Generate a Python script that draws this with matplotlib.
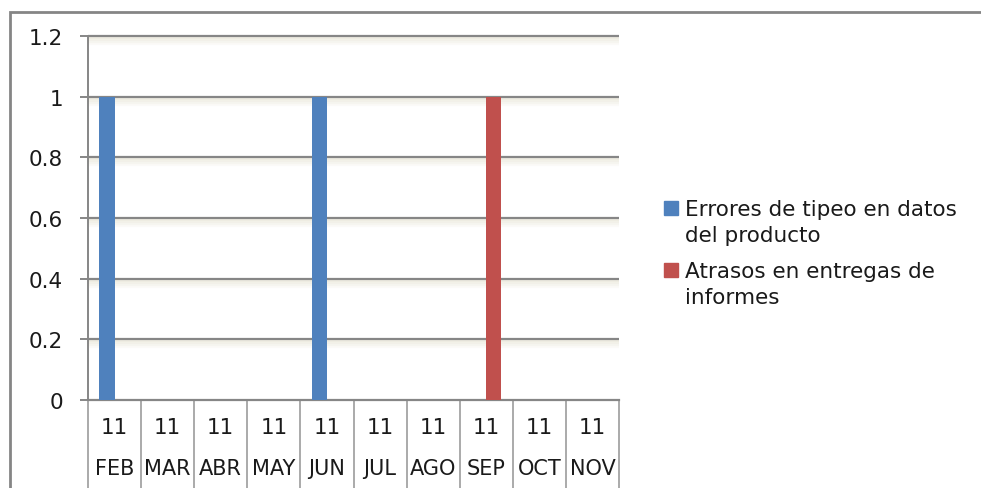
import matplotlib
matplotlib.use('Agg')
import matplotlib.pyplot as plt
from matplotlib.patches import Rectangle
from matplotlib.transforms import ScaledTranslation
import numpy as np

plt.rcParams['font.family'] = ['DejaVu Sans']

months = ["FEB", "MAR", "ABR", "MAY", "JUN", "JUL", "AGO", "SEP", "OCT", "NOV"]
years = ["11"] * 10
errores = [1, 0, 0, 0, 1, 0, 0, 0, 0, 0]
atrasos = [0, 0, 0, 0, 0, 0, 0, 1, 0, 0]
labels = ["Errores de tipeo en datos\ndel producto", "Atrasos en entregas de\ninformes"]
colors = ["#4F81BD", "#C0504D"]
y_ticks = [0, 0.2, 0.4, 0.6, 0.8, 1, 1.2]
y_names = ["0", "0.2", "0.4", "0.6", "0.8", "1", "1.2"]

W, H = 981, 489
fig = plt.figure(figsize=(W / 100, H / 100), dpi=100)
ax = fig.add_axes([88 / W, 1 - 401 / H, (619 - 88) / W, (401 - 37) / H])

grey = "#868686"
txt = "#1a1a1a"
x = np.arange(len(months))
bw = 0.286
ax.bar(x - bw / 2, errores, bw, color=colors[0], zorder=3)
ax.bar(x + bw / 2, atrasos, bw, color=colors[1], zorder=3)

ax.set_xlim(-0.5, len(months) - 0.5)
ax.set_ylim(0, 1.2)

# gridlines with the soft beige shadow under them
ytrans = ax.get_yaxis_transform()
for y in y_ticks[1:]:
    for dy, a in [(2, 0.8), (4, 0.6), (6, 0.4), (8, 0.2)]:
        off = ScaledTranslation(0, -dy / 100, fig.dpi_scale_trans)
        ax.plot([0, 1], [y, y], transform=ytrans + off, color="#ebe9dc",
                lw=1.6, alpha=a, zorder=1, solid_capstyle='butt')
    ax.plot([0, 1], [y, y], transform=ytrans, color=grey, lw=1.6, zorder=2,
            solid_capstyle='butt', clip_on=False)

for s in ["top", "right"]:
    ax.spines[s].set_visible(False)
ax.spines["left"].set_color(grey)
ax.spines["bottom"].set_color(grey)
ax.spines["left"].set_linewidth(1.4)
ax.spines["bottom"].set_linewidth(1.6)

ax.set_yticks(y_ticks, y_names, fontsize=15.5, color=txt)
ax.tick_params(axis='y', length=6, width=1.4, color=grey, pad=12)
ax.set_xticks([])

# two level category axis
xtrans = ax.get_xaxis_transform()
for i in range(len(months) + 1):
    ax.plot([i - 0.5, i - 0.5], [0, -0.3], transform=xtrans, color="#aaaaaa",
            lw=1.4, clip_on=False)
for i in range(len(months)):
    ax.text(i, -0.074, years[i], transform=xtrans, ha='center', va='center',
            fontsize=15.5, color=txt)
    ax.text(i, -0.186, months[i], transform=xtrans, ha='center', va='center',
            fontsize=15, color=txt)

# legend
for j, lab in enumerate(labels):
    yy = [209, 271][j]
    fig.patches.append(Rectangle((664 / W, 1 - (yy + 7) / H), 14 / W, 14 / H,
                                 transform=fig.transFigure, color=colors[j]))
    fig.text(685 / W, 1 - (yy - 9) / H, lab, ha='left', va='top', fontsize=15.5,
             color=txt, linespacing=1.4)

# outer chart border
fig.patches.append(Rectangle((10 / W, -0.1), 1.1, 1.1 - 13 / H, transform=fig.transFigure,
                             fill=False, edgecolor="#858585", lw=2))

plt.savefig("out.png", dpi=100)
